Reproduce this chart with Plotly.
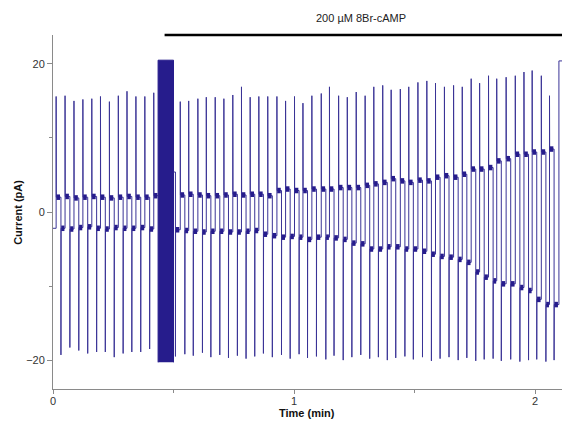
import plotly.graph_objects as go

# positive (depolarising step) transients: time (min), peak (pA), holding level after (pA)
POS_T = [0.013, 0.050, 0.087, 0.124, 0.161, 0.197, 0.234, 0.271, 0.307, 0.344, 0.381, 0.418,
         0.528, 0.563, 0.601, 0.636, 0.673, 0.709, 0.746, 0.782, 0.818, 0.854, 0.891, 0.929,
         0.965, 1.002, 1.037, 1.074, 1.113, 1.147, 1.185, 1.221, 1.258, 1.295, 1.331, 1.368,
         1.403, 1.441, 1.476, 1.514, 1.551, 1.587, 1.624, 1.662, 1.698, 1.735, 1.770, 1.807,
         1.841, 1.880, 1.918, 1.954, 1.988, 2.026, 2.060, 2.099]
POS_PEAK = [15.6, 15.7, 15.0, 15.2, 15.3, 15.6, 14.9, 15.7, 16.3, 15.6, 15.6, 16.1,
            14.9, 15.0, 15.3, 15.5, 15.5, 15.3, 15.8, 16.9, 15.5, 15.6, 15.6, 15.6,
            15.0, 15.6, 14.7, 15.7, 16.0, 16.9, 15.7, 15.5, 16.2, 15.7, 16.9, 17.1,
            16.5, 16.6, 16.9, 17.5, 17.7, 17.4, 16.9, 17.1, 16.9, 18.0, 17.4, 18.4,
            18.0, 18.2, 18.4, 18.9, 19.1, 18.4, 15.7, 20.4]
HIGH_LEVEL = [2.0, 2.1, 1.9, 2.0, 2.1, 2.0, 1.9, 2.0, 2.1, 2.0, 2.0, 2.2,
              2.3, 2.4, 2.3, 2.2, 2.2, 2.3, 2.4, 2.3, 2.4, 2.4, 2.2, 2.9,
              3.1, 2.9, 2.9, 3.1, 3.1, 3.1, 3.3, 3.3, 3.3, 3.6, 3.8, 4.0,
              4.5, 4.2, 4.0, 4.3, 4.2, 4.7, 4.9, 4.7, 5.1, 5.8, 5.8, 6.0,
              6.9, 7.2, 7.8, 7.8, 8.1, 8.1, 8.5, 20.4]

# negative (repolarising step) transients
NEG_T = [0.033, 0.070, 0.107, 0.144, 0.181, 0.217, 0.254, 0.291, 0.327, 0.364, 0.401,
         0.508, 0.547, 0.582, 0.620, 0.655, 0.692, 0.728, 0.765, 0.801, 0.837, 0.873,
         0.910, 0.948, 0.984, 1.021, 1.056, 1.093, 1.132, 1.166, 1.204, 1.240, 1.277,
         1.314, 1.350, 1.387, 1.422, 1.460, 1.495, 1.533, 1.570, 1.606, 1.643, 1.681,
         1.717, 1.754, 1.789, 1.826, 1.860, 1.899, 1.937, 1.973, 2.007, 2.045, 2.079]
NEG_PEAK = [-19.3, -18.3, -18.7, -19.1, -18.9, -18.9, -19.6, -19.1, -18.9, -18.9, -18.5,
            -19.5, -19.2, -19.4, -19.0, -19.6, -19.3, -19.7, -19.4, -19.8, -19.5, -19.1,
            -19.6, -19.3, -19.8, -19.2, -19.7, -19.5, -19.9, -19.4, -20.0, -19.6, -19.3,
            -19.8, -19.6, -20.0, -19.7, -19.5, -19.9, -19.6, -20.1, -19.8, -19.6, -20.0,
            -19.7, -20.1, -19.9, -19.8, -20.1, -19.9, -20.2, -20.0, -19.9, -20.2, -20.0]
LOW_LEVEL = [-2.2, -2.3, -2.1, -2.0, -2.2, -2.3, -2.1, -2.2, -2.2, -2.1, -2.3,
             -2.4, -2.5, -2.6, -2.7, -2.6, -2.6, -2.7, -2.7, -2.6, -2.5, -3.0,
             -3.2, -3.4, -3.3, -3.4, -3.7, -3.4, -3.4, -3.5, -3.7, -4.2, -4.3,
             -5.0, -5.0, -4.7, -4.7, -5.0, -5.0, -5.3, -5.7, -6.0, -6.1, -6.4,
             -6.8, -8.1, -8.8, -9.3, -9.7, -9.7, -10.2, -10.6, -11.8, -12.5, -12.5]

START_LEVEL = -2.2
BURST_T = [0.436, 0.500]
BURST_RANGE = [-20.3, 20.5]
POST_BURST_LEVEL = 5.4
TAIL_T = [2.114, 2.135]
TAIL_LEVEL = [-20.3, 20.4]
DRUG_START = 0.463
DRUG_LABEL = "200 µM 8Br-cAMP"

X_END = 2.145
COLOR = "#261C8C"
COLOR_THIN = "#3a3396"
AXIS_GREY = "#8a8a8a"
FONT = "Arial, Liberation Sans, sans-serif"

assert len(POS_T) == len(POS_PEAK) == len(HIGH_LEVEL)
assert len(NEG_T) == len(NEG_PEAK) == len(LOW_LEVEL)

events = sorted(list(zip(POS_T, POS_PEAK, HIGH_LEVEL)) + list(zip(NEG_T, NEG_PEAK, LOW_LEVEL)))
events += list(zip(TAIL_T, TAIL_LEVEL, TAIL_LEVEL))
pre = [e for e in events if e[0] < BURST_T[0]]
post = [e for e in events if e[0] > BURST_T[1]]


def build(t0, level, evs, t_end):
    # thin trace (steps + transients) and thick noisy holding-current blocks
    xs, ys = [t0], [level]
    nx, ny = [], []
    for i, (t, peak, new) in enumerate(evs):
        xs += [t, t, t + 0.0006]
        ys += [level, peak, new]
        level = new
        t_next = evs[i + 1][0] if i + 1 < len(evs) else t_end
        if abs(new) < 20:
            nx += [t + 0.0012, t + min(0.016, 0.85 * (t_next - t)), None]
            ny += [new, new, None]
    xs.append(t_end)
    ys.append(level)
    return xs, ys, nx, ny


x1, y1, n1x, n1y = build(0, START_LEVEL, pre, BURST_T[0])
x2, y2, n2x, n2y = build(BURST_T[1], POST_BURST_LEVEL, post, X_END)

fig = go.Figure()
fig.add_trace(go.Scatter(
    x=[BURST_T[0], BURST_T[0], BURST_T[1], BURST_T[1]],
    y=[BURST_RANGE[0], BURST_RANGE[1], BURST_RANGE[1], BURST_RANGE[0]],
    fill="toself", fillcolor=COLOR, mode="lines", line=dict(color=COLOR, width=1),
    hoverinfo="skip"))
fig.add_trace(go.Scatter(x=x1 + [None] + x2, y=y1 + [None] + y2, mode="lines",
                         line=dict(color=COLOR_THIN, width=1)))
fig.add_trace(go.Scatter(x=n1x + n2x, y=n1y + n2y, mode="lines",
                         line=dict(color=COLOR, width=5.5)))

fig.add_shape(type="line", xref="x", yref="paper", x0=DRUG_START, x1=X_END, y0=1, y1=1,
              line=dict(color="black", width=2.5))
fig.add_annotation(text=DRUG_LABEL, xref="x", yref="paper", x=1.276, y=1.048,
                   xanchor="center", yanchor="middle", showarrow=False,
                   font=dict(size=11, color="#222", family=FONT))
fig.add_annotation(text="<b>Current (pA)</b>", xref="paper", yref="paper", x=-0.068, y=0.5,
                   xanchor="center", yanchor="middle", textangle=-90, showarrow=False,
                   font=dict(size=11, color="#111", family=FONT))
fig.add_annotation(text="<b>Time (min)</b>", xref="paper", yref="paper", x=0.491, y=-0.068,
                   xanchor="center", yanchor="middle", showarrow=False,
                   font=dict(size=11, color="#111", family=FONT))

axis = dict(showgrid=False, zeroline=False, showline=True, linecolor=AXIS_GREY, linewidth=1,
            ticks="outside", tickcolor=AXIS_GREY,
            tickfont=dict(size=11, color="#333", family=FONT))
fig.update_xaxes(range=[0, X_END], tickvals=[0, 1, 2], ticklen=4, ticklabelstandoff=-2,
                 minor=dict(dtick=0.5, ticks="outside", ticklen=3, tickcolor=AXIS_GREY), **axis)
fig.update_yaxes(range=[-23.9, 23.9], tickvals=[-20, 0, 20], ticklen=5,
                 minor=dict(dtick=10, ticks="outside", ticklen=3, tickcolor=AXIS_GREY), **axis)
# the page body adds an 8 px margin, so the figure is sized to fit inside the window
fig.update_layout(width=562, height=413, margin=dict(l=45, r=0, t=27, b=32),
                  paper_bgcolor="white", plot_bgcolor="white", showlegend=False)

fig.write_html("out.html")
